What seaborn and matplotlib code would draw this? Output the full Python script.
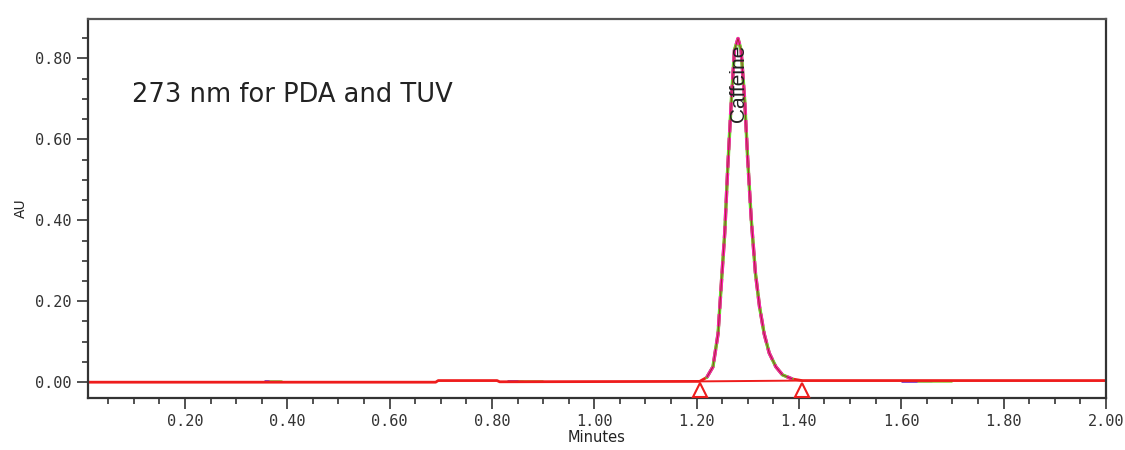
import matplotlib
matplotlib.use("Agg")
import matplotlib.pyplot as plt
from matplotlib.ticker import MultipleLocator, FormatStrFormatter
import pandas as pd
import seaborn as sns

sns.set_style("white")
plt.rcParams['font.family'] = ['Liberation Sans', 'DejaVu Sans']

# chromatogram trace (minutes, AU)
time_min = [0.01, 0.69, 0.695, 0.81, 0.815, 1.206, 1.22, 1.232, 1.242, 1.248,
            1.255, 1.261, 1.268, 1.274, 1.281, 1.287, 1.294, 1.300, 1.307,
            1.315, 1.323, 1.332, 1.342, 1.355, 1.368, 1.387, 1.406, 2.0]
absorb = [0.000, 0.000, 0.004, 0.004, 0.001, 0.002, 0.012, 0.038, 0.120, 0.236,
          0.368, 0.532, 0.697, 0.820, 0.849, 0.820, 0.697, 0.549, 0.400,
          0.270, 0.187, 0.120, 0.072, 0.038, 0.018, 0.008, 0.004, 0.004]

# integration start / end of the caffeine peak
peak_name = "Caffeine"
peak_apex = (1.281, 0.849)
integ_t = [1.206, 1.406]
integ_au = [0.002, 0.004]

# small noise blips from the other overlaid channels
blip_start = [0.355, 0.365, 0.83, 0.85, 1.60, 1.63]
blip_end = [0.385, 0.39, 0.86, 0.90, 1.66, 1.70]
blip_color = ['#7b3fc4', '#9fd45a', '#7b3fc4', '#9fd45a', '#7b3fc4', '#9fd45a']

df = pd.DataFrame({"Minutes": time_min, "AU": absorb})
peak = df[(df.Minutes >= 1.215) & (df.Minutes <= 1.40)]

fig = plt.figure(figsize=(11.25, 4.5), dpi=100)
ax = fig.add_axes([0.078, 0.1156, 0.905, 0.842])

for s, e, c in zip(blip_start, blip_end, blip_color):
    ax.hlines(0.002, s, e, colors=c, lw=2)

# red trace underneath, other overlaid channels on top in the peak
sns.lineplot(data=df, x="Minutes", y="AU", ax=ax, color='#ee1c1c', lw=2.0)
sns.lineplot(data=peak, x="Minutes", y="AU", ax=ax, color='#6ad22e', lw=2.4)
sns.lineplot(data=peak, x="Minutes", y="AU", ax=ax, color='#ff1fb4', lw=2.4,
             dashes=(2.5, 2.5), linestyle='--')
sns.lineplot(data=peak, x="Minutes", y="AU", ax=ax, color='#a0302a', lw=0.7)

# integration baseline and markers
ax.plot(integ_t, integ_au, color='#ee1c1c', lw=1.4)
ax.plot(integ_t, [-0.0185, -0.0185], ls='none', marker='^', ms=10,
        mfc='none', mec='#ee1c1c', mew=1.5, clip_on=False, zorder=5)

ax.text(peak_apex[0], peak_apex[1] - 0.015, peak_name, rotation=90,
        ha='center', va='top', fontsize=15, color='#222222',
        family=['Liberation Sans Narrow', 'Liberation Sans'])
ax.text(0.0965, 0.693, "273 nm for PDA and TUV", fontsize=18.5, color='#222222',
        family='DejaVu Sans')

ax.set_xlim(0.01, 2.0)
ax.set_ylim(-0.039, 0.897)
ax.xaxis.set_major_locator(MultipleLocator(0.2))
ax.xaxis.set_minor_locator(MultipleLocator(0.05))
ax.yaxis.set_major_locator(MultipleLocator(0.2))
ax.yaxis.set_minor_locator(MultipleLocator(0.05))
ax.xaxis.set_major_formatter(FormatStrFormatter('%.2f'))
ax.yaxis.set_major_formatter(FormatStrFormatter('%.2f'))

ax.tick_params(which='major', direction='out', length=8, width=1.2,
               color='#333333', labelcolor='#333333', labelsize=11,
               left=True, bottom=True)
ax.tick_params(which='minor', direction='out', length=4, width=1.2,
               color='#333333', left=True, bottom=True)
for lab in ax.get_xticklabels() + ax.get_yticklabels():
    lab.set_family('DejaVu Sans Mono')

ax.set_xlabel("Minutes", fontsize=10.5, color='#222222', family='DejaVu Sans', labelpad=1)
ax.set_ylabel("AU", fontsize=10, color='#222222', family='DejaVu Sans', labelpad=5)

for side in ['left', 'bottom', 'right', 'top']:
    ax.spines[side].set_color('#333333')
    ax.spines[side].set_linewidth(1.6)
ax.spines['top'].set_color('#555555')

fig.savefig("out.png", dpi=100)
